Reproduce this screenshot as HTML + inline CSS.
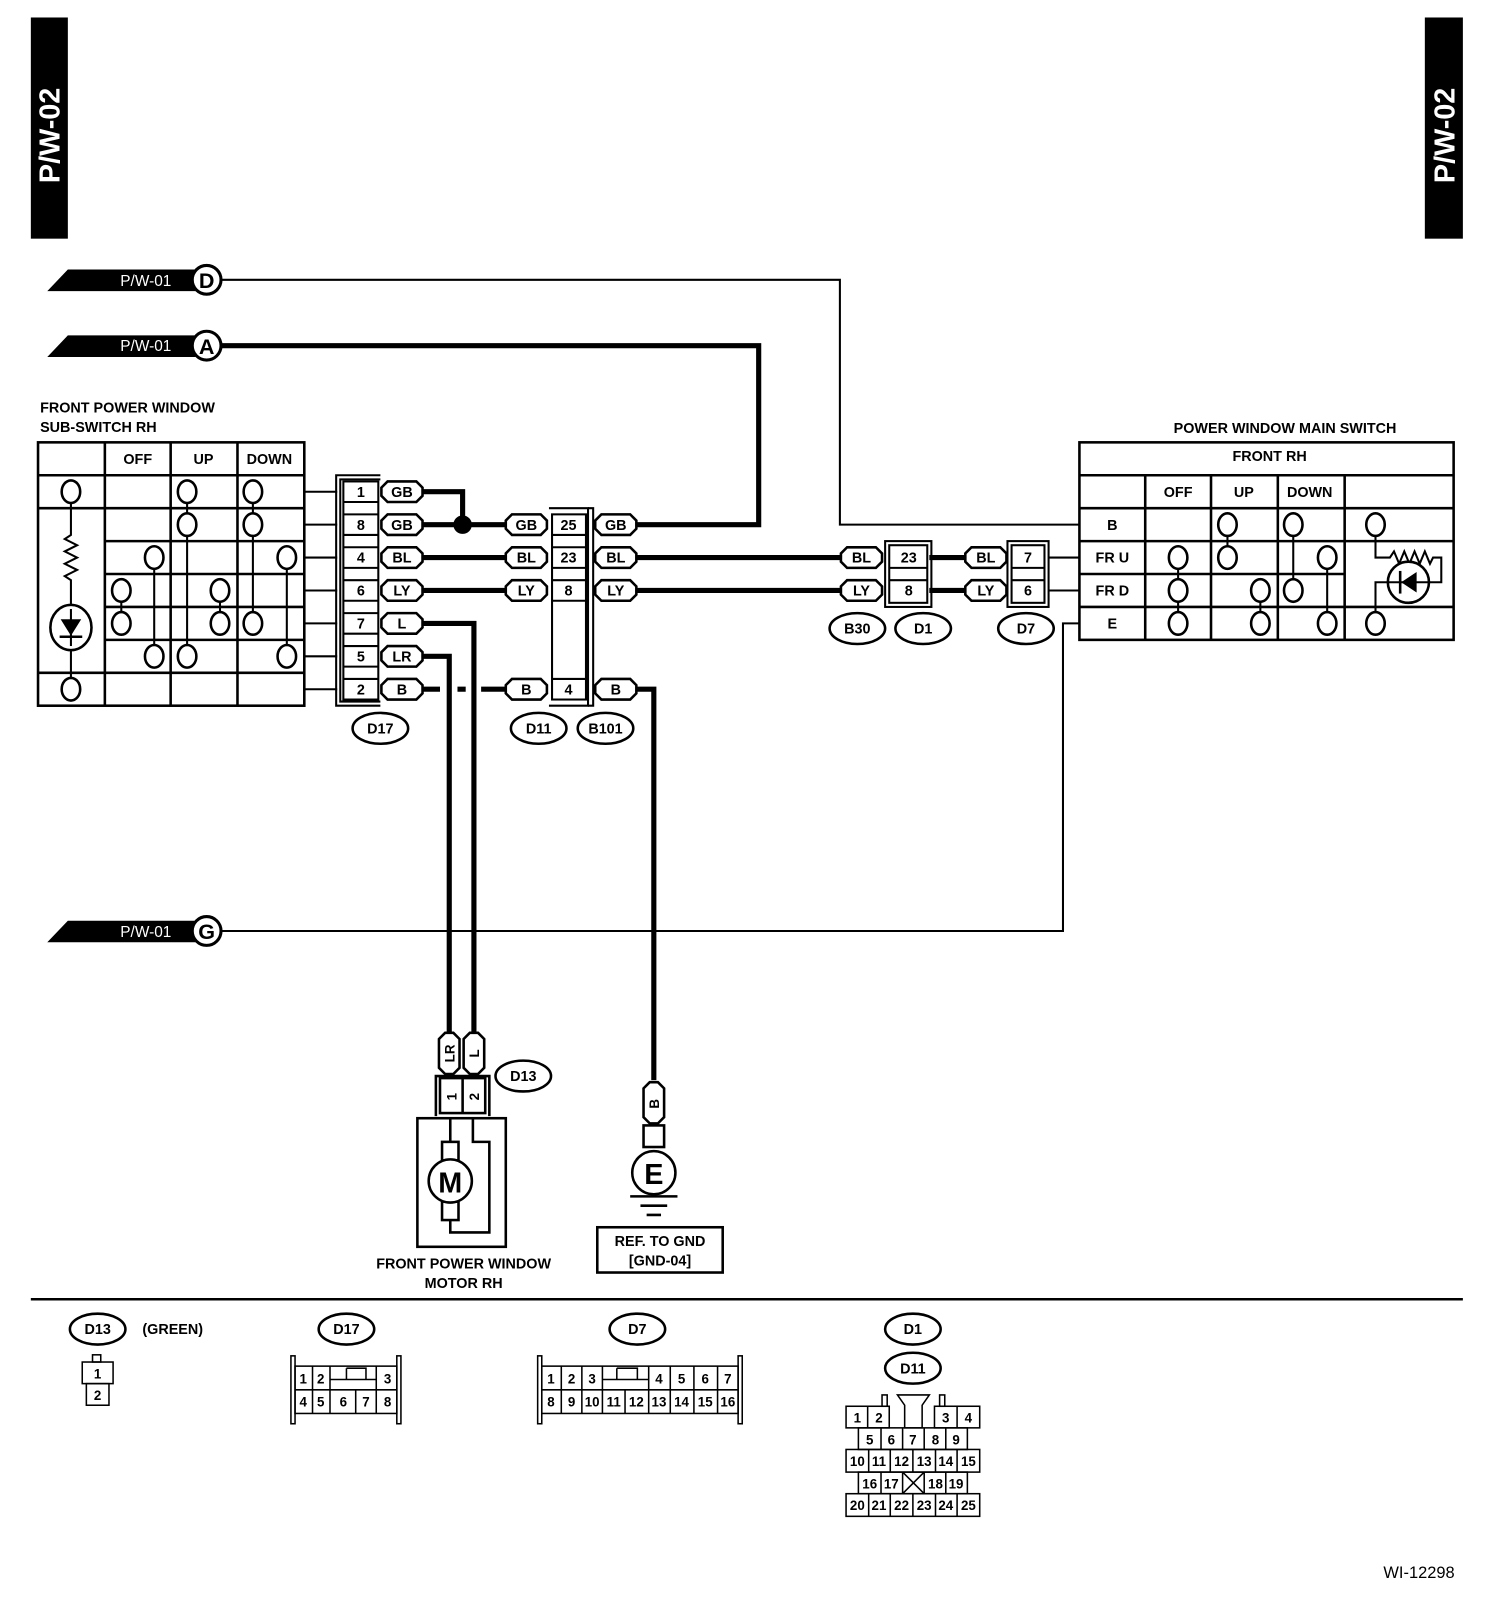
<!DOCTYPE html>
<html><head><meta charset="utf-8"><style>
html,body{margin:0;padding:0;background:#fff;}
svg{display:block;}
text{font-family:"Liberation Sans",Arial,sans-serif;font-weight:bold;fill:#000;}
</style></head><body>
<svg width="1504" height="1612" viewBox="0 0 1463 1567" preserveAspectRatio="none" xmlns="http://www.w3.org/2000/svg">
<defs>
<g id="pill"><path d="M-14,-10 H14 L20,-4 V4 L14,10 H-14 L-20,4 V-4 Z" fill="#fff" stroke="#000" stroke-width="2.5"/></g>
<g id="vpill"><path d="M-10,-14 V14 L-4,20 H4 L10,14 V-14 L4,-20 H-4 Z" fill="#fff" stroke="#000" stroke-width="2.5"/></g>
</defs>
<rect x="30" y="17" width="36" height="215" fill="#000"/>
<text transform="translate(58,178) rotate(-90)" font-size="28" style="fill:#fff">P/W-02</text>
<rect x="1386" y="17" width="37" height="215" fill="#000"/>
<text transform="translate(1415,178) rotate(-90)" font-size="28" style="fill:#fff">P/W-02</text>

<g font-size="15">
<polygon points="46,283 66,262 190,262 190,283" fill="#000"/>
<text x="117" y="278" style="fill:#fff;font-weight:normal">P/W-01</text>
<circle cx="201" cy="272" r="14" fill="#fff" stroke="#000" stroke-width="3"/>
<text x="201" y="280" font-size="21" text-anchor="middle">D</text>
<polygon points="46,347 66,326 190,326 190,347" fill="#000"/>
<text x="117" y="341" style="fill:#fff;font-weight:normal">P/W-01</text>
<circle cx="201" cy="336" r="14" fill="#fff" stroke="#000" stroke-width="3"/>
<text x="201" y="344" font-size="21" text-anchor="middle">A</text>
<polygon points="46,916 66,895 190,895 190,916" fill="#000"/>
<text x="117" y="911" style="fill:#fff;font-weight:normal">P/W-01</text>
<circle cx="201" cy="905" r="14" fill="#fff" stroke="#000" stroke-width="3"/>
<text x="201" y="913" font-size="21" text-anchor="middle">G</text>
</g>

<g fill="none" stroke="#000" stroke-width="2">
<path d="M215,272 H817 V510 H1050"/>
<path d="M215,905 H1034 V606 H1050"/>
<path d="M1020,542 H1050 M1020,574 H1050"/>
<path d="M296,478 H328 M296,510 H328 M296,542 H328 M296,574 H328 M296,606 H328 M296,638 H328 M296,670 H328"/>
</g>
<g fill="none" stroke="#000" stroke-width="5">
<path d="M215,336 H738 V510 H620"/>
<path d="M410,478 H450 V510"/>
<path d="M410,510 H492"/>
<path d="M410,542 H492 M620,542 H818 M904,542 H940"/>
<path d="M410,574 H492 M620,574 H818 M904,574 H940"/>
<path d="M410,606 H461 V1005"/>
<path d="M410,638 H437 V1005"/>
<path d="M410,670 H428 M445,670 H453 M468,670 H492"/>
<path d="M620,670 H636 V1050"/>
</g>
<circle cx="450" cy="510" r="9" fill="#000"/>

<text x="39" y="401" font-size="14">FRONT POWER WINDOW</text>
<text x="39" y="420" font-size="14">SUB-SWITCH RH</text>
<g fill="none" stroke="#000" stroke-width="2.5">
<rect x="37" y="430" width="259" height="256"/>
<path d="M37,462 H296 M37,494 H296 M102,526 H296 M102,558 H296 M102,590 H296 M102,622 H296 M37,654 H296"/>
<path d="M102,430 V686 M166,430 V686 M231,430 V686"/>
</g>
<g font-size="14" text-anchor="middle"><text x="134" y="451">OFF</text><text x="198" y="451">UP</text><text x="262" y="451">DOWN</text></g>
<g stroke="#000" stroke-width="2" fill="none">
<path d="M69,489 V520 l-6,4 12,6 -12,6 12,6 -12,6 12,6 -12,6 6,4 V659"/>
<path d="M118,574 V606 M214,574 V606 M150,542 V638 M182,478 V638 M246,478 V606 M279,542 V638"/>
</g>
<ellipse cx="69" cy="610" rx="20" ry="22" fill="#fff" stroke="#000" stroke-width="2.5"/>
<path d="M69,592 V628" stroke="#000" stroke-width="2"/>
<polygon points="59,602 79,602 69,618" fill="#000"/><path d="M58,619 H80" stroke="#000" stroke-width="2.5"/>
<g fill="#fff" stroke="#000" stroke-width="2.5">
<ellipse cx="69" cy="478" rx="9" ry="11"/><ellipse cx="182" cy="478" rx="9" ry="11"/><ellipse cx="246" cy="478" rx="9" ry="11"/>
<ellipse cx="182" cy="510" rx="9" ry="11"/><ellipse cx="246" cy="510" rx="9" ry="11"/>
<ellipse cx="150" cy="542" rx="9" ry="11"/><ellipse cx="279" cy="542" rx="9" ry="11"/>
<ellipse cx="118" cy="574" rx="9" ry="11"/><ellipse cx="214" cy="574" rx="9" ry="11"/>
<ellipse cx="118" cy="606" rx="9" ry="11"/><ellipse cx="214" cy="606" rx="9" ry="11"/><ellipse cx="246" cy="606" rx="9" ry="11"/>
<ellipse cx="150" cy="638" rx="9" ry="11"/><ellipse cx="182" cy="638" rx="9" ry="11"/><ellipse cx="279" cy="638" rx="9" ry="11"/>
<ellipse cx="69" cy="670" rx="9" ry="11"/>
</g>

<g fill="none" stroke="#000" stroke-width="2">
<path d="M370,462 H327 V686 H370"/><path d="M370,466 H331 V682 H370"/>
<rect x="334" y="468" width="34" height="212" fill="#fff"/>
<path d="M334,488 H368 M334,500 H368 M334,520 H368 M334,532 H368 M334,552 H368 M334,564 H368 M334,584 H368 M334,596 H368 M334,616 H368 M334,628 H368 M334,648 H368 M334,660 H368"/>
</g>
<g font-size="14" text-anchor="middle">
<text x="351" y="483">1</text><text x="351" y="515">8</text><text x="351" y="547">4</text><text x="351" y="579">6</text><text x="351" y="611">7</text><text x="351" y="643">5</text><text x="351" y="675">2</text>
</g>
<g fill="none" stroke="#000" stroke-width="2">
<path d="M534,494 H572 V686 H534"/><path d="M572,494 H577 V686 H572"/>
<rect x="537" y="500" width="33" height="180" fill="#fff"/>
<path d="M537,520 H570 M537,532 H570 M537,552 H570 M537,564 H570 M537,584 H570 M537,660 H570"/>
</g>
<g font-size="14" text-anchor="middle"><text x="553" y="515">25</text><text x="553" y="547">23</text><text x="553" y="579">8</text><text x="553" y="675">4</text></g>
<g fill="none" stroke="#000" stroke-width="2">
<rect x="861" y="526" width="45" height="64"/><rect x="865" y="530" width="37" height="56" fill="#fff"/>
<path d="M865,552 H902 M865,564 H902"/>
<rect x="980" y="526" width="40" height="64"/><rect x="984" y="530" width="32" height="56" fill="#fff"/>
<path d="M984,552 H1016 M984,564 H1016"/>
</g>
<g font-size="14" text-anchor="middle"><text x="884" y="547">23</text><text x="884" y="579">8</text><text x="1000" y="547">7</text><text x="1000" y="579">6</text></g>

<g font-size="14" text-anchor="middle">
<use href="#pill" x="391" y="478"/><text x="391" y="483">GB</text>
<use href="#pill" x="391" y="510"/><text x="391" y="515">GB</text>
<use href="#pill" x="391" y="542"/><text x="391" y="547">BL</text>
<use href="#pill" x="391" y="574"/><text x="391" y="579">LY</text>
<use href="#pill" x="391" y="606"/><text x="391" y="611">L</text>
<use href="#pill" x="391" y="638"/><text x="391" y="643">LR</text>
<use href="#pill" x="391" y="670"/><text x="391" y="675">B</text>
<use href="#pill" x="512" y="510"/><text x="512" y="515">GB</text>
<use href="#pill" x="512" y="542"/><text x="512" y="547">BL</text>
<use href="#pill" x="512" y="574"/><text x="512" y="579">LY</text>
<use href="#pill" x="512" y="670"/><text x="512" y="675">B</text>
<use href="#pill" x="599" y="510"/><text x="599" y="515">GB</text>
<use href="#pill" x="599" y="542"/><text x="599" y="547">BL</text>
<use href="#pill" x="599" y="574"/><text x="599" y="579">LY</text>
<use href="#pill" x="599" y="670"/><text x="599" y="675">B</text>
<use href="#pill" x="838" y="542"/><text x="838" y="547">BL</text>
<use href="#pill" x="838" y="574"/><text x="838" y="579">LY</text>
<use href="#pill" x="959" y="542"/><text x="959" y="547">BL</text>
<use href="#pill" x="959" y="574"/><text x="959" y="579">LY</text>
</g>
<g fill="#fff" stroke="#000" stroke-width="2.5">
<ellipse cx="370" cy="708" rx="27" ry="15"/><ellipse cx="524" cy="708" rx="27" ry="15"/><ellipse cx="589" cy="708" rx="27" ry="15"/>
<ellipse cx="834" cy="611" rx="27" ry="15"/><ellipse cx="898" cy="611" rx="27" ry="15"/><ellipse cx="998" cy="611" rx="27" ry="15"/>
<ellipse cx="509" cy="1046" rx="27" ry="15"/>
<ellipse cx="95" cy="1292" rx="27" ry="15"/><ellipse cx="337" cy="1292" rx="27" ry="15"/><ellipse cx="620" cy="1292" rx="27" ry="15"/>
<ellipse cx="888" cy="1292" rx="27" ry="15"/><ellipse cx="888" cy="1330" rx="27" ry="15"/>
</g>
<g font-size="14" text-anchor="middle">
<text x="370" y="713">D17</text><text x="524" y="713">D11</text><text x="589" y="713">B101</text>
<text x="834" y="616">B30</text><text x="898" y="616">D1</text><text x="998" y="616">D7</text>
<text x="509" y="1051">D13</text>
<text x="95" y="1297">D13</text><text x="337" y="1297">D17</text><text x="620" y="1297">D7</text>
<text x="888" y="1297">D1</text><text x="888" y="1335">D11</text>
<text x="168" y="1297">(GREEN)</text>
</g>

<text x="1250" y="421" font-size="14" text-anchor="middle">POWER WINDOW MAIN SWITCH</text>
<g fill="none" stroke="#000" stroke-width="2.5">
<rect x="1050" y="430" width="364" height="192"/>
<path d="M1050,462 H1414 M1050,494 H1414 M1050,526 H1414 M1050,558 H1308 M1050,590 H1414"/>
<path d="M1114,462 V622 M1178,462 V622 M1243,462 V622 M1308,462 V622"/>
</g>
<g font-size="14" text-anchor="middle">
<text x="1235" y="448">FRONT  RH</text>
<text x="1146" y="483">OFF</text><text x="1210" y="483">UP</text><text x="1274" y="483">DOWN</text>
<text x="1082" y="515">B</text><text x="1082" y="547">FR U</text><text x="1082" y="579">FR D</text><text x="1082" y="611">E</text>
</g>
<g stroke="#000" stroke-width="2" fill="none">
<path d="M1146,542 V606 M1194,510 V542 M1258,510 V574 M1291,542 V606 M1226,574 V606"/>
<path d="M1338,510 V542 H1352 l4,-6 5,12 5,-12 5,12 5,-12 5,12 5,-12 5,12 3,-6 H1402 V566 H1390 M1350,566 H1338 V606"/>
</g>
<circle cx="1370" cy="566" r="20" fill="#fff" stroke="#000" stroke-width="2.5"/>
<path d="M1350,566 H1390" stroke="#000" stroke-width="2"/>
<polygon points="1378,556 1378,576 1363,566" fill="#000"/><path d="M1362,555 V577" stroke="#000" stroke-width="2.5"/>
<g fill="#fff" stroke="#000" stroke-width="2.5">
<ellipse cx="1194" cy="510" rx="9" ry="11"/><ellipse cx="1258" cy="510" rx="9" ry="11"/><ellipse cx="1338" cy="510" rx="9" ry="11"/>
<ellipse cx="1146" cy="542" rx="9" ry="11"/><ellipse cx="1194" cy="542" rx="9" ry="11"/><ellipse cx="1291" cy="542" rx="9" ry="11"/>
<ellipse cx="1146" cy="574" rx="9" ry="11"/><ellipse cx="1226" cy="574" rx="9" ry="11"/><ellipse cx="1258" cy="574" rx="9" ry="11"/>
<ellipse cx="1146" cy="606" rx="9" ry="11"/><ellipse cx="1226" cy="606" rx="9" ry="11"/><ellipse cx="1291" cy="606" rx="9" ry="11"/><ellipse cx="1338" cy="606" rx="9" ry="11"/>
</g>

<g font-size="13" text-anchor="middle">
<use href="#vpill" x="437" y="1024"/><text transform="translate(442,1024) rotate(-90)">LR</text>
<use href="#vpill" x="461" y="1024"/><text transform="translate(466,1024) rotate(-90)">L</text>
</g>
<g fill="none" stroke="#000" stroke-width="2.5">
<path d="M424,1085 V1046 H476 V1085"/>
<rect x="428" y="1048" width="44" height="34" fill="#fff"/><path d="M450,1048 V1082"/>
<rect x="406" y="1087" width="86" height="125"/>
<path d="M438,1087 V1110 M438,1186 V1198 H476 V1110 H460 V1087"/>
<rect x="430" y="1110" width="16" height="18"/><rect x="430" y="1168" width="16" height="18"/>
</g>
<g font-size="13" text-anchor="middle"><text transform="translate(444,1066) rotate(-90)">1</text><text transform="translate(466,1066) rotate(-90)">2</text></g>
<circle cx="438" cy="1148" r="21" fill="#fff" stroke="#000" stroke-width="2.5"/>
<text x="438" y="1159" font-size="28" text-anchor="middle">M</text>
<text x="451" y="1233" font-size="14" text-anchor="middle">FRONT POWER WINDOW</text>
<text x="451" y="1252" font-size="14" text-anchor="middle">MOTOR RH</text>

<use href="#vpill" x="636" y="1072"/><text transform="translate(641,1073) rotate(-90)" font-size="13" text-anchor="middle">B</text>
<rect x="626" y="1094" width="20" height="21" fill="#fff" stroke="#000" stroke-width="2.5"/>
<circle cx="636" cy="1140" r="21" fill="#fff" stroke="#000" stroke-width="2.5"/>
<text x="636" y="1151" font-size="28" text-anchor="middle">E</text>
<path d="M613,1163 H659 M623,1172 H649 M629,1181 H643" stroke="#000" stroke-width="2.5"/>
<rect x="581" y="1193" width="122" height="44" fill="none" stroke="#000" stroke-width="2.5"/>
<text x="642" y="1211" font-size="14" text-anchor="middle">REF. TO GND</text>
<text x="642" y="1230" font-size="14" text-anchor="middle">[GND-04]</text>

<path d="M30,1263 H1423" stroke="#000" stroke-width="2.5"/>

<g fill="none" stroke="#000" stroke-width="1.5">
<rect x="90" y="1317" width="8" height="7"/>
<rect x="80" y="1324" width="30" height="21"/><rect x="84" y="1345" width="22" height="21"/>
<rect x="283" y="1318" width="4" height="66"/><rect x="386" y="1318" width="4" height="66"/>
<rect x="287" y="1328" width="99" height="46"/>
<path d="M287,1351 H386 M304,1328 V1374 M321,1328 V1374 M366,1328 V1374 M346,1351 V1374 M321,1341 H366 M337,1330 H356 V1341 M337,1330 V1341"/>
<rect x="523" y="1318" width="4" height="66"/><rect x="718" y="1318" width="4" height="66"/>
<rect x="527" y="1328" width="191" height="46"/>
<path d="M527,1351 H718 M546,1328 V1374 M566,1328 V1374 M586,1328 V1374 M631,1328 V1374 M652,1328 V1374 M675,1328 V1374 M698,1328 V1374 M608,1351 V1374 M586,1341 H631 M600,1330 H620 V1341 M600,1330 V1341"/>
<rect x="858" y="1356" width="5" height="11"/><rect x="914" y="1356" width="5" height="11"/>
<path d="M873,1356 H904 L897,1366 V1388 H880 V1366 Z"/>
<rect x="823" y="1367" width="42" height="21"/><path d="M844,1367 V1388"/>
<rect x="909" y="1367" width="44" height="21"/><path d="M931,1367 V1388"/>
<rect x="835" y="1388" width="106" height="21"/><path d="M857,1388 V1409 M878,1388 V1409 M899,1388 V1409 M920,1388 V1409"/>
<rect x="823" y="1409" width="130" height="22"/><path d="M845,1409 V1431 M866,1409 V1431 M888,1409 V1431 M910,1409 V1431 M931,1409 V1431"/>
<rect x="835" y="1431" width="106" height="21"/><path d="M857,1431 V1452 M878,1431 V1452 M899,1431 V1452 M920,1431 V1452 M878,1431 L899,1452 M899,1431 L878,1452"/>
<rect x="823" y="1452" width="130" height="22"/><path d="M845,1452 V1474 M866,1452 V1474 M888,1452 V1474 M910,1452 V1474 M931,1452 V1474"/>
</g>
<g font-size="13" text-anchor="middle" style="font-weight:normal">
<text x="95" y="1340">1</text><text x="95" y="1361">2</text>
<text x="295" y="1345">1</text><text x="312" y="1345">2</text><text x="377" y="1345">3</text>
<text x="295" y="1367">4</text><text x="312" y="1367">5</text><text x="334" y="1367">6</text><text x="356" y="1367">7</text><text x="377" y="1367">8</text>
<text x="536" y="1345">1</text><text x="556" y="1345">2</text><text x="576" y="1345">3</text><text x="641" y="1345">4</text><text x="663" y="1345">5</text><text x="686" y="1345">6</text><text x="708" y="1345">7</text>
<text x="536" y="1367">8</text><text x="556" y="1367">9</text><text x="576" y="1367">10</text><text x="597" y="1367">11</text><text x="619" y="1367">12</text><text x="641" y="1367">13</text><text x="663" y="1367">14</text><text x="686" y="1367">15</text><text x="708" y="1367">16</text>
<text x="834" y="1383">1</text><text x="855" y="1383">2</text><text x="920" y="1383">3</text><text x="942" y="1383">4</text>
<text x="846" y="1404">5</text><text x="867" y="1404">6</text><text x="888" y="1404">7</text><text x="910" y="1404">8</text><text x="930" y="1404">9</text>
<text x="834" y="1425">10</text><text x="855" y="1425">11</text><text x="877" y="1425">12</text><text x="899" y="1425">13</text><text x="920" y="1425">14</text><text x="942" y="1425">15</text>
<text x="846" y="1447">16</text><text x="867" y="1447">17</text><text x="910" y="1447">18</text><text x="930" y="1447">19</text>
<text x="834" y="1468">20</text><text x="855" y="1468">21</text><text x="877" y="1468">22</text><text x="899" y="1468">23</text><text x="920" y="1468">24</text><text x="942" y="1468">25</text>
</g>
<text x="1415" y="1534" font-size="16" text-anchor="end" style="font-weight:normal">WI-12298</text>
</svg>
</body></html>
